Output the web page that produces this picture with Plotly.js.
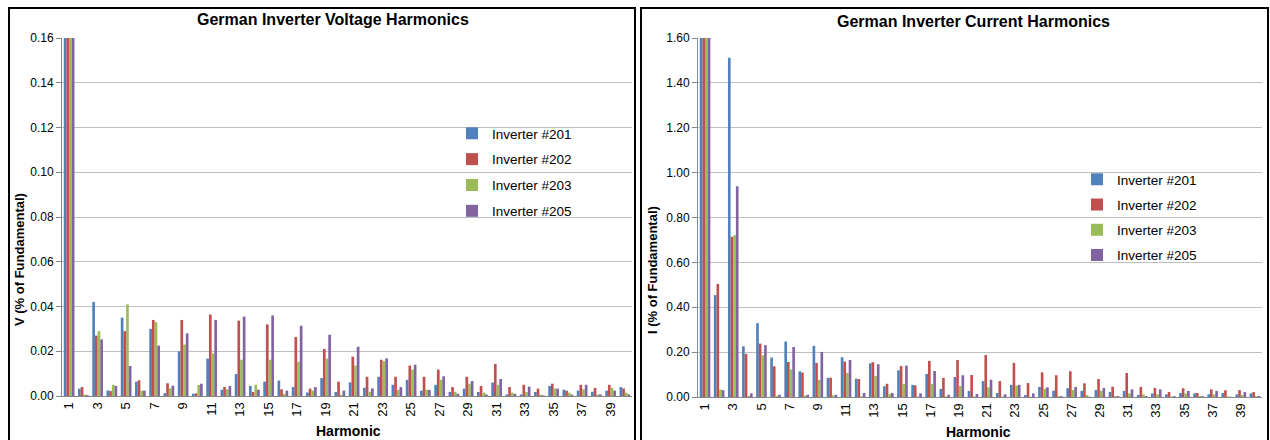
<!DOCTYPE html>
<html>
<head>
<meta charset="utf-8">
<script src="https://cdn.plot.ly/plotly-3.0.1.min.js"></script>
<style>
  html, body { margin: 0; padding: 0; background: #ffffff; }
  #chart { width: 1270px; height: 440px; }
</style>
</head>
<body>
<div id="chart"></div>
<script>
// Harmonic orders (1 = fundamental)
const harmonics = [1, 2, 3, 4, 5, 6, 7, 8, 9, 10, 11, 12, 13, 14, 15, 16, 17, 18, 19, 20,
                   21, 22, 23, 24, 25, 26, 27, 28, 29, 30, 31, 32, 33, 34, 35, 36, 37, 38, 39, 40];
const oddTicks = [1, 3, 5, 7, 9, 11, 13, 15, 17, 19, 21, 23, 25, 27, 29, 31, 33, 35, 37, 39];
const seriesNames = ["Inverter #201", "Inverter #202", "Inverter #203", "Inverter #205"];

// Voltage harmonics, % of fundamental
const v201 = [100, 0.0033, 0.042, 0.0025, 0.035, 0.0064, 0.030, 0.0013, 0.020, 0.0010,
              0.0167, 0.0028, 0.0098, 0.0045, 0.0064, 0.0069, 0.0040, 0.0016, 0.0080, 0.0018,
              0.0061, 0.0037, 0.0086, 0.0050, 0.0072, 0.0024, 0.0050, 0.0018, 0.0033, 0.0018,
              0.0060, 0.0007, 0.0007, 0.0018, 0.0045, 0.0028, 0.0024, 0.0019, 0.0024, 0.0040];
const v202 = [100, 0.0040, 0.027, 0.0022, 0.029, 0.0070, 0.034, 0.0057, 0.034, 0.0012,
              0.0364, 0.0040, 0.0337, 0.0018, 0.032, 0.0030, 0.0264, 0.0033, 0.021, 0.0064,
              0.0176, 0.0086, 0.0162, 0.0086, 0.0136, 0.0086, 0.0118, 0.0040, 0.0086, 0.0045,
              0.0143, 0.0040, 0.0050, 0.0033, 0.0055, 0.0024, 0.0050, 0.0036, 0.0050, 0.0034];
const v203 = [100, 0.0007, 0.029, 0.0050, 0.041, 0.0024, 0.033, 0.0034, 0.023, 0.0049,
              0.019, 0.0030, 0.0162, 0.0050, 0.0162, 0.0010, 0.0153, 0.0024, 0.0167, 0.0006,
              0.0136, 0.0019, 0.0156, 0.0028, 0.0118, 0.0028, 0.0073, 0.0019, 0.0055, 0.0015,
              0.0050, 0.0015, 0.0018, 0.0006, 0.0034, 0.0015, 0.0030, 0.0007, 0.0037, 0.0015];
const v205 = [100, 0.0004, 0.0253, 0.0045, 0.0134, 0.0024, 0.0225, 0.0046, 0.028, 0.0055,
              0.034, 0.0045, 0.0355, 0.0028, 0.036, 0.0024, 0.0314, 0.0040, 0.0274, 0.0024,
              0.022, 0.0034, 0.0168, 0.0040, 0.0140, 0.0027, 0.0088, 0.0010, 0.0067, 0.0007,
              0.0076, 0.0010, 0.0042, 0.0003, 0.0033, 0.0006, 0.0050, 0.0007, 0.0024, 0.0007];

// Current harmonics, % of fundamental
const i201 = [100, 0.454, 1.512, 0.226, 0.329, 0.176, 0.247, 0.114, 0.228, 0.085,
              0.177, 0.082, 0.150, 0.048, 0.119, 0.054, 0.103, 0.036, 0.089, 0.027,
              0.071, 0.018, 0.054, 0.009, 0.045, 0.028, 0.039, 0.027, 0.031, 0.022,
              0.027, 0.009, 0.016, 0.012, 0.018, 0.016, 0.012, 0.018, 0.012, 0.016];
const i202 = [100, 0.504, 0.714, 0.192, 0.238, 0.137, 0.156, 0.109, 0.152, 0.086,
              0.158, 0.080, 0.155, 0.059, 0.138, 0.052, 0.161, 0.085, 0.165, 0.098,
              0.187, 0.071, 0.152, 0.062, 0.110, 0.097, 0.115, 0.061, 0.080, 0.046,
              0.107, 0.045, 0.040, 0.022, 0.039, 0.018, 0.034, 0.030, 0.031, 0.022];
const i203 = [100, 0.033, 0.721, 0.005, 0.186, 0.005, 0.123, 0.006, 0.076, 0.007,
              0.107, 0.003, 0.094, 0.013, 0.058, 0.002, 0.058, 0.003, 0.049, 0.002,
              0.043, 0.002, 0.051, 0.0015, 0.037, 0.004, 0.031, 0.009, 0.028, 0.004,
              0.016, 0.012, 0.012, 0.002, 0.016, 0.004, 0.012, 0.002, 0.009, 0.004];
const i205 = [100, 0.030, 0.939, 0.016, 0.231, 0.010, 0.223, 0.010, 0.201, 0.010,
              0.165, 0.018, 0.146, 0.018, 0.140, 0.016, 0.116, 0.010, 0.097, 0.013,
              0.077, 0.012, 0.054, 0.016, 0.043, 0.004, 0.045, 0.001, 0.040, 0.004,
              0.034, 0.004, 0.034, 0.004, 0.027, 0.004, 0.027, 0.001, 0.022, 0.004];

const colors = ["#4F81BD", "#C0504D", "#9BBB59", "#8064A2"];
const W = 1270, H = 440;
const FONT = "Liberation Sans, Arial, sans-serif";

// pixel helpers for paper coordinates (zero margins)
const px = x => x / W;
const py = y => 1 - y / H;

function barTrace(name, values, color, xa, ya, legend, group) {
  return {
    type: "bar",
    name: name,
    x: harmonics,
    y: values,
    xaxis: xa,
    yaxis: ya,
    legend: legend,
    legendgroup: group,
    marker: { color: color, line: { width: 0 } },
    hoverinfo: "x+y+name"
  };
}

const voltage = [v201, v202, v203, v205];
const current = [i201, i202, i203, i205];
const traces = [];
voltage.forEach((v, k) => traces.push(barTrace(seriesNames[k], v, colors[k], "x", "y", "legend", "v" + k)));
current.forEach((v, k) => traces.push(barTrace(seriesNames[k], v, colors[k], "x2", "y2", "legend2", "i" + k)));

const xCommon = {
  type: "linear",
  range: [0.5, 40.5],
  tickmode: "array",
  tickvals: oddTicks,
  ticktext: oddTicks.map(String),
  tickangle: -90,
  showgrid: false,
  zeroline: false,
  showline: true,
  linecolor: "#868686",
  linewidth: 1,
  ticks: "",
  tickfont: { family: FONT, size: 13, color: "#000" },
  fixedrange: true
};
const yCommon = {
  showgrid: true,
  gridcolor: "#BFBFBF",
  gridwidth: 1,
  zeroline: false,
  showline: true,
  linecolor: "#868686",
  linewidth: 1,
  ticks: "outside",
  ticklen: 5,
  tickcolor: "#868686",
  tickformat: ".2f",
  tickfont: { family: FONT, size: 12, color: "#000" },
  fixedrange: true,
  autorange: false
};

const legendCommon = {
  xanchor: "left",
  yanchor: "top",
  bgcolor: "rgba(0,0,0,0)",
  borderwidth: 0,
  font: { family: FONT, size: 13.5, color: "#000" },
  traceorder: "grouped",
  itemclick: false,
  itemdoubleclick: false
};

const layout = {
  width: W,
  height: H,
  margin: { l: 0, r: 0, t: 0, b: 0 },
  paper_bgcolor: "#ffffff",
  plot_bgcolor: "#ffffff",
  barmode: "group",
  bargap: 0.25,
  bargroupgap: 0,
  showlegend: true,
  xaxis: Object.assign({}, xCommon, { domain: [px(62), px(632)], anchor: "y" }),
  yaxis: Object.assign({}, yCommon, { domain: [py(396), py(38)], range: [0, 0.16], dtick: 0.02, anchor: "x" }),
  xaxis2: Object.assign({}, xCommon, { domain: [px(698), px(1262)], anchor: "y2" }),
  yaxis2: Object.assign({}, yCommon, { domain: [py(397), py(38)], range: [0, 1.6], dtick: 0.2, anchor: "x2" }),
  legend: Object.assign({}, legendCommon, { x: px(452), y: py(118), tracegroupgap: 5.3 }),
  legend2: Object.assign({}, legendCommon, { x: px(1077), y: py(164), tracegroupgap: 4.7 }),
  annotations: [
    { text: "<b>German Inverter Voltage Harmonics</b>", xref: "paper", yref: "paper",
      x: px(333), y: py(19), xanchor: "center", yanchor: "middle", showarrow: false,
      font: { family: FONT, size: 16, color: "#000" } },
    { text: "<b>German Inverter Current Harmonics</b>", xref: "paper", yref: "paper",
      x: px(974), y: py(21), xanchor: "center", yanchor: "middle", showarrow: false,
      font: { family: FONT, size: 16, color: "#000" } },
    { text: "<b>V (% of Fundamental)</b>", xref: "paper", yref: "paper",
      x: px(19), y: py(260), xanchor: "center", yanchor: "middle", showarrow: false, textangle: -90,
      font: { family: FONT, size: 13, color: "#000" } },
    { text: "<b>I (% of Fundamental)</b>", xref: "paper", yref: "paper",
      x: px(652), y: py(270), xanchor: "center", yanchor: "middle", showarrow: false, textangle: -90,
      font: { family: FONT, size: 13, color: "#000" } },
    { text: "<b>Harmonic</b>", xref: "paper", yref: "paper",
      x: px(348), y: py(431), xanchor: "center", yanchor: "middle", showarrow: false,
      font: { family: FONT, size: 14, color: "#000" } },
    { text: "<b>Harmonic</b>", xref: "paper", yref: "paper",
      x: px(978), y: py(432), xanchor: "center", yanchor: "middle", showarrow: false,
      font: { family: FONT, size: 14, color: "#000" } }
  ],
  shapes: [
    // panel frames
    { type: "rect", xref: "paper", yref: "paper", x0: px(9), x1: px(635), y0: py(460), y1: py(8),
      line: { color: "#000", width: 2 }, fillcolor: "rgba(0,0,0,0)", layer: "above" },
    { type: "rect", xref: "paper", yref: "paper", x0: px(641), x1: px(1268), y0: py(460), y1: py(8),
      line: { color: "#000", width: 2 }, fillcolor: "rgba(0,0,0,0)", layer: "above" }
  ]
};

Plotly.newPlot("chart", traces, layout, { displayModeBar: false, staticPlot: true });
</script>
</body>
</html>
